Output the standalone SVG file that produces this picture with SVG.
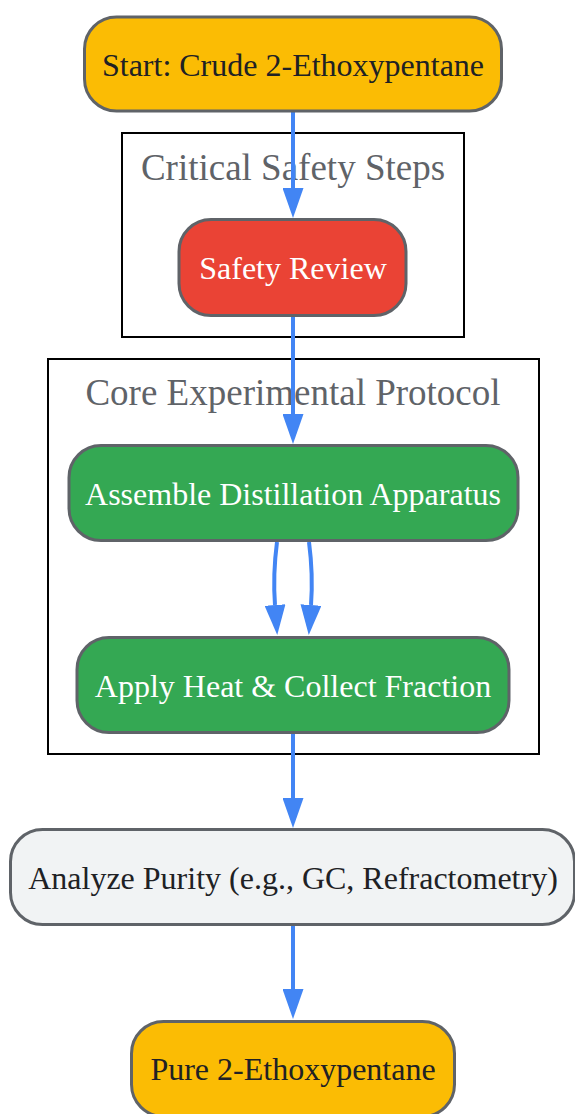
<svg xmlns="http://www.w3.org/2000/svg" width="575" height="1114" viewBox="0 0 575 1114">
<style>
.cluster{fill:none;stroke:#000;stroke-width:2}
.clabel{font-family:"Liberation Serif",serif;font-size:37px;fill:#5f6368;text-anchor:middle}
.node rect{stroke:#5f6368;stroke-width:3}
.node text{font-family:"Liberation Serif",serif;font-size:32px;text-anchor:middle}
.y rect{fill:#fbbc04}.y text{fill:#202124}
.r rect{fill:#ea4335}.r text{fill:#fff}
.g rect{fill:#34a853}.g text{fill:#fff}
.w rect{fill:#f1f3f4}.w text{fill:#202124}
.edge{fill:none;stroke:#4285f4;stroke-width:4;marker-end:url(#ah)}
</style>
<defs>
<marker id="ah" viewBox="0 -10.5 30 21" refX="0" refY="0" markerWidth="30" markerHeight="21" markerUnits="userSpaceOnUse" orient="auto">
<path d="M0,-10.5 L30,0 L0,10.5 z" fill="#4285f4"/>
</marker>
</defs>
<rect width="575" height="1114" fill="#fff"/>
<g id="cluster_safety">
<rect class="cluster" x="122" y="133" width="342" height="204"/>
<text class="clabel" x="293" y="180">Critical Safety Steps</text>
</g>
<g id="cluster_core">
<rect class="cluster" x="48" y="359" width="491" height="395"/>
<text class="clabel" x="293" y="405">Core Experimental Protocol</text>
</g>
<g id="connectors">
<path class="edge" d="M293,112 L293,188"/>
<path class="edge" d="M293,317 L293,414"/>
<path class="edge" d="M277,542 C274,565 273.5,585 275,605"/>
<path class="edge" d="M309,542 C312,565 312.5,585 311,605"/>
<path class="edge" d="M293,734 L293,798"/>
<path class="edge" d="M293,925 L293,989"/>
</g>
<g id="start" class="node y">
<rect x="84.5" y="17" width="417" height="94" rx="32"/>
<text x="293" y="76">Start: Crude 2-Ethoxypentane</text>
</g>
<g id="safety" class="node r">
<rect x="179" y="219.5" width="227" height="96" rx="32"/>
<text x="293" y="279">Safety Review</text>
</g>
<g id="assemble" class="node g">
<rect x="69" y="445.5" width="449" height="95" rx="32"/>
<text x="293" y="505">Assemble Distillation Apparatus</text>
</g>
<g id="apply" class="node g">
<rect x="77" y="637.5" width="432" height="95" rx="32"/>
<text x="293" y="697">Apply Heat &amp; Collect Fraction</text>
</g>
<g id="analyze" class="node w">
<rect x="10.5" y="829.5" width="564" height="95" rx="32"/>
<text x="293" y="889">Analyze Purity (e.g., GC, Refractometry)</text>
</g>
<g id="pure" class="node y">
<rect x="131.5" y="1021.5" width="323" height="95" rx="32"/>
<text x="293" y="1080">Pure 2-Ethoxypentane</text>
</g>
</svg>
